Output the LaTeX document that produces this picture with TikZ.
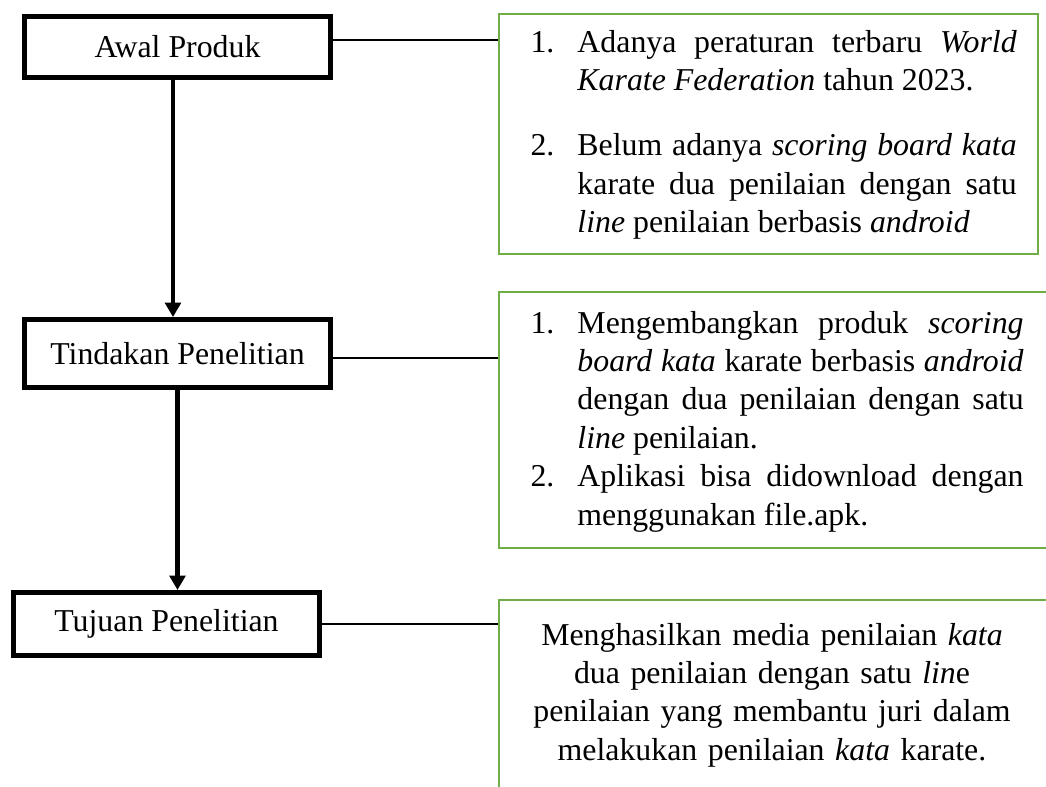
\documentclass[tikz,border=0pt]{standalone}
\usepackage{fontspec}
\setmainfont{Liberation Serif}
\usepackage{tikz}
\usetikzlibrary{positioning, arrows.meta}
\definecolor{frameGreen}{HTML}{70AD47}
\newcommand{\px}{0.377pt}
\newcommand{\itm}[2]{\hangindent=17.7pt\hangafter=1\noindent\makebox[17.7pt][l]{#1.}#2\par}

\begin{document}
\begin{tikzpicture}[x=\px, y=-\px,
	every node/.style={font=\fontsize{12pt}{14.5pt}\selectfont},
	stepbox/.style={draw, line width=1.9pt, minimum width=115.4pt, inner sep=0pt},
	gframe/.style={draw=frameGreen, line width=1pt, inner sep=0pt},
	itembox/.style={inner sep=0pt, anchor=base west, align=justify},
	link/.style={line width=0.6pt},
	flow/.style={line width=1.6pt, -{Triangle[width=5.9pt,length=5.4pt]}}]
		\useasboundingbox (0,0) rectangle (1046,787);
		\clip (0,0) rectangle (1046,787);
		
		\node[stepbox, minimum height=23pt] (b1) at (177.5,47) {Awal Produk};
		\node[stepbox, minimum height=25.6pt] (b2) at (177.5,353.5) {Tindakan Penelitian};
		\node[stepbox, minimum height=23.75pt] (b3) at (166.5,624) {Tujuan Penelitian};
		
		\node[gframe, minimum width=203.2pt, minimum height=90.5pt] (g1) at (768.5,134) {};
		\node[gframe, minimum width=215.3pt, minimum height=96.5pt] (g2) at (784.5,420) {};
		\node[gframe, minimum width=215.3pt, minimum height=86.7pt] (g3) at (784.5,715) {};
		
		\node[itembox, text width=183.3pt] (t1) at (530,52) {%
			\itm{1}{Adanya peraturan terbaru \textit{World}\linebreak \textit{Karate Federation} tahun 2023.}%
			\vspace{10.2pt}%
			\itm{2}{Belum adanya \textit{scoring board kata}\linebreak karate dua penilaian dengan satu\linebreak \textit{line} penilaian berbasis \textit{android}}};
		\node[itembox, text width=185.9pt] (t2) at (530,333) {%
			\itm{1}{Mengembangkan produk \textit{scoring}\linebreak \textit{board kata} karate berbasis \textit{android}\linebreak dengan dua penilaian dengan satu\linebreak \textit{line} penilaian.}%
			\itm{2}{Aplikasi bisa didownload dengan\linebreak menggunakan file.apk.}};
		\node[inner sep=0pt, anchor=base, align=center, text width=187pt] (t3) at (772,645) {%
			Menghasilkan media penilaian \textit{kata}\\
			dua penilaian dengan satu \textit{lin}e\\
			penilaian yang membantu juri dalam\\
			melakukan penilaian \textit{kata} karate.};
		
		\draw[flow] ([xshift=-1.7pt]b1.south) -- ([xshift=-1.7pt]b2.north);
		\draw[flow] (b2.south) -- (b2.south |- b3.north);
		
		\draw[link] ([yshift=2.6pt]b1.east) coordinate (l1) -- (l1 -| g1.west);
		\draw[link] ([yshift=-1.7pt]b2.east) coordinate (l2) -- (l2 -| g2.west);
		\draw[link] (b3.east) -- (b3.east -| g3.west);
\end{tikzpicture}
\end{document}
